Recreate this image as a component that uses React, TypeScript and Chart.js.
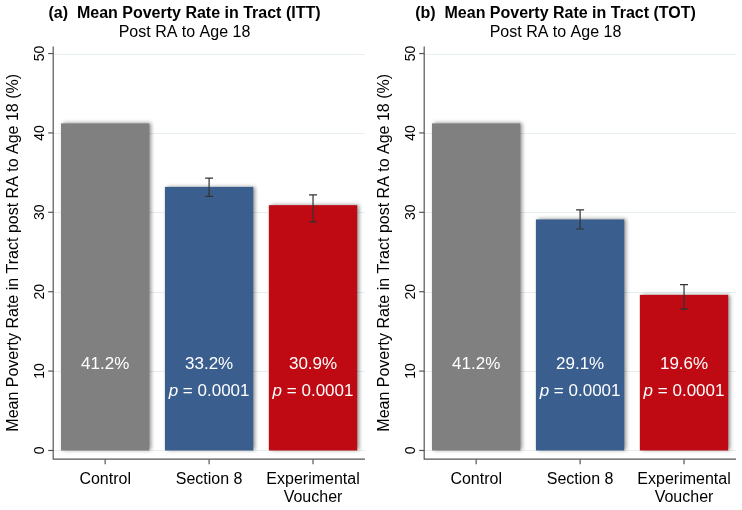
import { useEffect, useRef } from "react";
import { Chart, registerables } from "chart.js";

Chart.register(...registerables);

const categories = ["Control", "Section 8", ["Experimental", "Voucher"]];
const colors = ["#808080", "#3a5f8f", "#bf0a13"];
const ittValues = [41.2, 33.2, 30.9];
const ittLow = [null, 32.0, 28.8];
const ittHigh = [null, 34.3, 32.2];
const totValues = [41.2, 29.1, 19.6];
const totLow = [null, 27.9, 17.8];
const totHigh = [null, 30.3, 20.9];
const pLabels = [null, "0.0001", "0.0001"];
const yTicks = [0, 10, 20, 30, 40, 50];

const FONT = "'Liberation Sans', Arial, sans-serif";

const overlay = {
  id: "overlay",
  beforeDatasetsDraw(chart: any) {
    const { ctx } = chart;
    const meta = chart.getDatasetMeta(0);
    const y = chart.scales.y;
    ctx.save();
    // faint grid
    ctx.strokeStyle = "#e6eeee";
    ctx.lineWidth = 1;
    yTicks.forEach((v) => {
      const py = Math.round(y.getPixelForValue(v)) + 0.5;
      ctx.beginPath();
      ctx.moveTo(chart.chartArea.left, py);
      ctx.lineTo(chart.chartArea.right, py);
      ctx.stroke();
    });
    ctx.shadowColor = "rgba(0,0,0,0.45)";
    ctx.shadowBlur = 4;
    ctx.shadowOffsetX = 2;
    ctx.shadowOffsetY = 0;
    meta.data.forEach((bar: any, i: number) => {
      const w = bar.width;
      ctx.fillStyle = colors[i];
      ctx.fillRect(bar.x - w / 2, bar.y, w, bar.base - bar.y);
    });
    ctx.restore();
  },
  afterDatasetsDraw(chart: any) {
    const { ctx } = chart;
    const o = chart.options.plugins.overlay;
    const y = chart.scales.y;
    const a = chart.chartArea;
    const meta = chart.getDatasetMeta(0);
    ctx.save();
    meta.data.forEach((bar: any, i: number) => {
      if (o.low[i] != null) {
        const y1 = y.getPixelForValue(o.low[i]);
        const y2 = y.getPixelForValue(o.high[i]);
        ctx.strokeStyle = "#333";
        ctx.lineWidth = 1.2;
        ctx.beginPath();
        ctx.moveTo(bar.x, y1);
        ctx.lineTo(bar.x, y2);
        ctx.moveTo(bar.x - 4, y1);
        ctx.lineTo(bar.x + 4, y1);
        ctx.moveTo(bar.x - 4, y2);
        ctx.lineTo(bar.x + 4, y2);
        ctx.stroke();
      }
      ctx.fillStyle = "#fff";
      ctx.textAlign = "center";
      ctx.textBaseline = "middle";
      ctx.font = `17px ${FONT}`;
      ctx.fillText(o.values[i].toFixed(1) + "%", bar.x, y.getPixelForValue(10.8));
      if (pLabels[i]) {
        const py = y.getPixelForValue(7.4);
        const b = " = " + pLabels[i];
        ctx.font = `17px ${FONT}`;
        const wb = ctx.measureText(b).width;
        ctx.font = `italic 17px ${FONT}`;
        const wa = ctx.measureText("p").width;
        const x0 = bar.x - (wa + wb) / 2;
        ctx.textAlign = "left";
        ctx.fillText("p", x0, py);
        ctx.font = `17px ${FONT}`;
        ctx.fillText(b, x0 + wa, py);
      }
    });
    // axes lines
    ctx.strokeStyle = "#555";
    ctx.lineWidth = 1.2;
    ctx.beginPath();
    ctx.moveTo(a.left, a.top);
    ctx.lineTo(a.left, a.bottom);
    ctx.lineTo(a.right, a.bottom);
    ctx.stroke();
    // y ticks, rotated labels
    ctx.fillStyle = "#000";
    ctx.font = `14px ${FONT}`;
    ctx.textAlign = "center";
    ctx.textBaseline = "bottom";
    yTicks.forEach((v) => {
      const py = y.getPixelForValue(v);
      ctx.beginPath();
      ctx.moveTo(a.left - 5, py);
      ctx.lineTo(a.left, py);
      ctx.stroke();
      ctx.save();
      ctx.translate(a.left - 6, py);
      ctx.rotate(-Math.PI / 2);
      ctx.fillText(String(v), 0, 0);
      ctx.restore();
    });
    // x ticks
    meta.data.forEach((bar: any) => {
      ctx.beginPath();
      ctx.moveTo(bar.x, a.bottom);
      ctx.lineTo(bar.x, a.bottom + 5);
      ctx.stroke();
    });
    ctx.restore();
  },
};

function Panel({ title, values, low, high }: any) {
  const ref = useRef<HTMLCanvasElement | null>(null);
  useEffect(() => {
    if (!ref.current) return;
    const chart = new Chart(ref.current, {
      type: "bar",
      data: {
        labels: categories as any,
        datasets: [{ data: values, backgroundColor: "rgba(0,0,0,0)", barPercentage: 0.85, categoryPercentage: 1 }],
      },
      options: {
        animation: false,
        responsive: false,
        layout: { padding: { left: 4, right: 6, top: 0, bottom: 0 } },
        plugins: {
          legend: { display: false },
          tooltip: { enabled: false },
          title: { display: true, text: title, color: "#000", font: { family: FONT, size: 16, weight: "bold" }, padding: { top: 4, bottom: 0 } },
          subtitle: { display: true, text: "Post RA to Age 18", color: "#000", font: { family: FONT, size: 16 }, padding: { bottom: 4 } },
          overlay: { values, low, high },
        } as any,
        scales: {
          x: {
            grid: { display: false },
            border: { display: false },
            ticks: { color: "#000", font: { family: FONT, size: 16, lineHeight: 1.15 }, padding: 3 },
          },
          y: {
            min: -1.1,
            max: 50.9,
            grid: { display: false },
            border: { display: false },
            ticks: { display: false },
            title: { display: true, text: "Mean Poverty Rate in Tract post RA to Age 18 (%)", color: "#000", font: { family: FONT, size: 16 }, padding: { top: 0, bottom: 22 } },
          },
        },
      } as any,
      plugins: [overlay],
    });
    return () => chart.destroy();
  }, []);
  return <canvas ref={ref} width={371} height={510} style={{ display: "block" }} />;
}

export default function App() {
  useEffect(() => {
    document.body.style.margin = "0";
  }, []);
  return (
    <div style={{ display: "flex", width: 742, height: 510, background: "#fff" }}>
      <Panel title="(a)  Mean Poverty Rate in Tract (ITT)" values={ittValues} low={ittLow} high={ittHigh} />
      <Panel title="(b)  Mean Poverty Rate in Tract (TOT)" values={totValues} low={totLow} high={totHigh} />
    </div>
  );
}
